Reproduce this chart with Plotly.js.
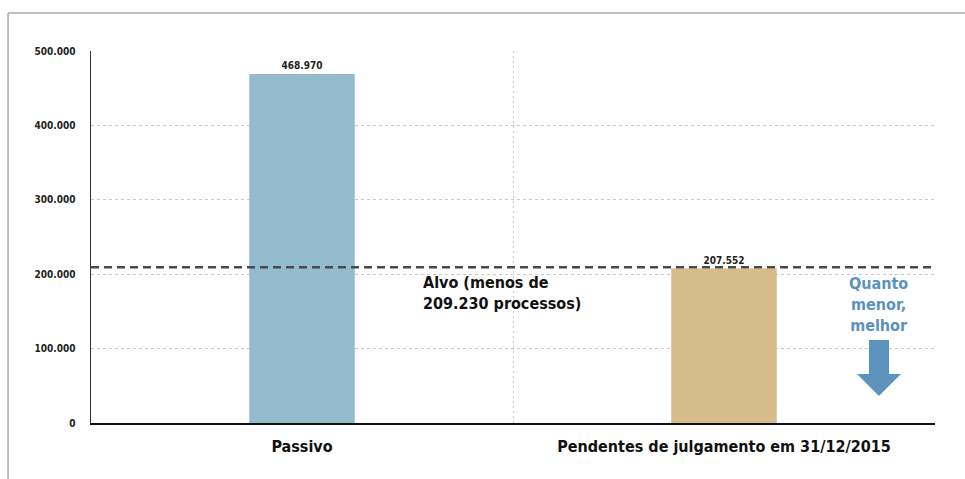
<!DOCTYPE html>
<html>
<head>
<meta charset="utf-8">
<script src="https://cdn.plot.ly/plotly-3.0.1.min.js"></script>
<style>html,body{margin:0;padding:0;background:#fff;}#chart{width:965px;height:479px;}</style>
</head>
<body>
<div id="chart"></div>
<script>
const categories = ["Passivo", "Pendentes de julgamento em 31/12/2015"];
const values = [468970, 207552];
const barColors = ["#93bacd", "#d6bc8a"];
const target = 209230;
const targetLabel = "Alvo (menos de<br>209.230 processos)";
const noteLabel = "Quanto<br>menor,<br>melhor";
const yTicks = [0, 100000, 200000, 300000, 400000, 500000];

const FONT = "'DejaVu Sans Condensed', 'Liberation Sans Narrow', Arial, sans-serif";
const idx = categories.map((c, i) => i);

const trace = {
  type: "bar",
  x: idx,
  y: values,
  width: 0.25,
  marker: {color: barColors},
  texttemplate: "%{y:,d}",
  textposition: "outside",
  textfont: {family: FONT, size: 10, color: "#222", weight: "bold"},
  cliponaxis: false,
  hoverinfo: "skip"
};

const layout = {
  width: 965, height: 479,
  margin: {l: 91, r: 30, t: 51, b: 56},
  paper_bgcolor: "#fff", plot_bgcolor: "#fff",
  separators: ",.",
  showlegend: false,
  font: {family: FONT, color: "#222"},
  xaxis: {
    range: [-0.5, 1.5],
    tickmode: "array", tickvals: idx, ticktext: categories,
    tickfont: {family: FONT, size: 16, color: "#111", weight: "bold"},
    showgrid: false, zeroline: false,
    showline: true, linecolor: "#111", linewidth: 2,
    ticks: "", ticklabelstandoff: 8,
    minor: {tick0: 0.5, dtick: 1, showgrid: true, gridcolor: "#c8c8c8", griddash: "2px,3px", gridwidth: 1, ticks: ""}
  },
  yaxis: {
    range: [0, 500000],
    tickmode: "array", tickvals: yTicks,
    tickformat: ",d",
    tickfont: {family: FONT, size: 10, color: "#222", weight: "bold"},
    showgrid: true, gridcolor: "#c8c8c8", griddash: "3px,3px", gridwidth: 1,
    zeroline: false,
    showline: true, linecolor: "#333", linewidth: 1.5,
    ticks: "", ticklabelstandoff: 12
  },
  shapes: [
    {type: "line", xref: "paper", yref: "y", x0: 0, x1: 1, y0: target, y1: target,
     line: {color: "#4a4a4a", width: 2.5, dash: "8px,5px"}},
    {type: "line", xref: "paper", yref: "paper", x0: -0.0983, x1: 1.04, y0: 1.1022, y1: 1.1022,
     line: {color: "#aaaaaa", width: 1.5}},
    {type: "line", xref: "paper", yref: "paper", x0: -0.0983, x1: -0.0983, y0: 1.1022, y1: -0.16,
     line: {color: "#aaaaaa", width: 1.5}},
    {type: "path", xref: "paper", yref: "paper",
     path: "M 0.9218 0.2231 L 0.9455 0.2231 L 0.9455 0.1317 L 0.9597 0.1317 L 0.9336 0.0726 L 0.9076 0.1317 L 0.9218 0.1317 Z",
     fillcolor: "#5b93bd", line: {width: 0}}
  ],
  annotations: [
    {xref: "paper", yref: "y", x: 0.391, y: target, xanchor: "left", yanchor: "top", yshift: -4,
     align: "left", showarrow: false, text: targetLabel,
     font: {family: FONT, size: 16, color: "#111", weight: "bold"}},
    {xref: "paper", yref: "y", x: 0.9325, y: target, xanchor: "center", yanchor: "top", yshift: -5,
     align: "center", showarrow: false, text: noteLabel,
     font: {family: FONT, size: 16, color: "#5b93bd", weight: "bold"}}
  ]
};

Plotly.newPlot("chart", [trace], layout, {displayModeBar: false, staticPlot: true});
</script>
</body>
</html>
